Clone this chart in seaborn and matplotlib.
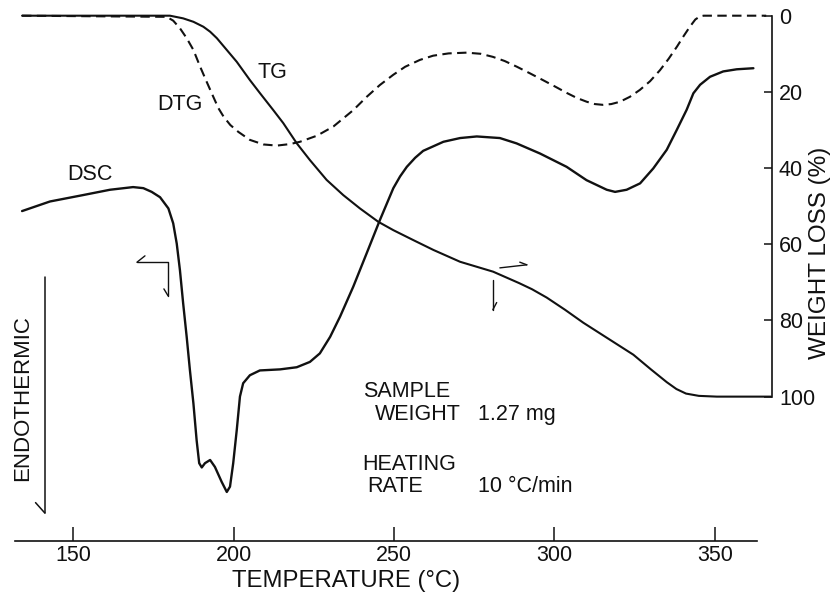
import matplotlib
matplotlib.use("Agg")
import matplotlib.pyplot as plt
import pandas as pd
import seaborn as sns

# TG trace: temperature (°C) and weight loss (%)
tg_temp = [134.1, 180.2, 184.3, 187.5, 190.6, 192.7, 194.8, 197.9, 201.0, 205.1,
           208.3, 212.4, 215.5, 219.7, 223.8, 229.0, 234.2, 239.4, 245.1, 249.8,
           256.0, 262.3, 270.6, 280.9, 289.0, 293.0, 297.6, 303.3, 309.0, 316.8,
           324.6, 330.0, 335.0, 338.0, 341.0, 345.0, 350.6, 367.5]
tg_loss = [0.0, 0.0, 0.7, 1.6, 2.9, 4.2, 5.9, 9.0, 12.1, 16.9,
           20.4, 24.8, 28.2, 33.5, 37.9, 43.1, 47.1, 50.6, 54.1, 56.3,
           58.9, 61.5, 64.6, 67.2, 70.2, 71.8, 74.0, 77.2, 80.6, 84.8,
           89.0, 92.8, 96.2, 98.0, 99.2, 99.8, 100.0, 100.0]

# DTG trace (arbitrary units, drawn against the weight-loss scale)
dtg_temp = [134.1, 179.2, 181.2, 183.3, 185.4, 187.5, 189.6, 191.6, 193.7, 195.3,
            196.9, 199.0, 201.5, 205.1, 209.3, 213.5, 217.6, 220.7, 226.0, 231.1,
            237.3, 241.5, 245.6, 249.8, 253.5, 258.1, 262.2, 267.0, 272.6, 277.0,
            280.8, 284.5, 288.3, 292.3, 296.4, 300.2, 303.9, 307.0, 310.1, 312.6,
            315.1, 317.7, 320.4, 323.5, 326.6, 329.8, 332.9, 335.6, 338.2, 340.3,
            342.2, 343.9, 345.3, 346.5, 366.0]
dtg_val = [0.0, 0.3, 1.3, 3.3, 5.9, 9.0, 13.4, 17.3, 21.3, 24.3,
           26.5, 28.7, 30.5, 32.6, 33.8, 34.1, 33.7, 33.1, 31.5, 29.1,
           24.8, 21.3, 18.2, 15.5, 13.4, 11.6, 10.5, 9.9, 9.7, 10.0,
           10.8, 11.9, 13.4, 15.1, 16.9, 18.6, 20.3, 21.6, 22.6, 23.2,
           23.4, 23.2, 22.6, 21.3, 19.5, 17.2, 14.3, 11.3, 8.1, 5.3,
           2.9, 1.0, 0.2, 0.0, 0.0]

# DSC trace (arbitrary heat-flow units, downward = endothermic)
dsc_temp = [134.1, 142.8, 153.1, 161.5, 168.7, 171.9, 174.5, 177.1, 179.7, 181.2,
            182.3, 183.3, 184.3, 185.4, 186.4, 187.5, 188.5, 189.3, 190.1, 191.1,
            192.7, 194.2, 196.3, 197.9, 198.9, 199.9, 201.0, 202.0, 203.0, 205.1,
            208.2, 214.5, 219.7, 223.8, 226.9, 230.1, 233.2, 237.3, 241.5, 245.6,
            249.8, 251.9, 254.0, 256.6, 259.1, 265.4, 270.6, 275.8, 283.0, 288.2,
            295.5, 303.8, 310.0, 316.3, 318.9, 322.5, 326.7, 330.8, 335.0, 338.1,
            341.2, 343.3, 345.4, 348.5, 352.6, 356.8, 362.0]
dsc_val = [6.19, 6.37, 6.49, 6.59, 6.64, 6.62, 6.55, 6.45, 6.24, 5.96,
           5.58, 5.08, 4.46, 3.83, 3.21, 2.58, 1.89, 1.46, 1.38, 1.46,
           1.52, 1.39, 1.11, 0.92, 1.02, 1.46, 2.08, 2.71, 2.96, 3.11,
           3.20, 3.22, 3.26, 3.36, 3.52, 3.83, 4.21, 4.77, 5.40, 6.02,
           6.62, 6.84, 7.02, 7.19, 7.32, 7.49, 7.56, 7.59, 7.56, 7.46,
           7.27, 7.02, 6.77, 6.59, 6.55, 6.59, 6.71, 6.99, 7.34, 7.71,
           8.09, 8.40, 8.56, 8.71, 8.81, 8.85, 8.87]

temp_ticks = [150, 200, 250, 300, 350]
loss_ticks = [0, 20, 40, 60, 80, 100]

sns.set_theme(style="white")
plt.rcParams["font.family"] = ["Liberation Sans", "DejaVu Sans"]
plt.rcParams["lines.solid_joinstyle"] = "round"
plt.rcParams["lines.solid_capstyle"] = "round"
FS = 15.5
INK = "#111111"

fig = plt.figure(figsize=(8.33, 5.96), dpi=100)
fig.patch.set_facecolor("white")
ax = fig.add_axes([15 / 833, 55 / 596, 757 / 833, 533 / 596])
ax2 = ax.twinx()

tg = pd.DataFrame({"T": tg_temp, "loss": tg_loss})
dtg = pd.DataFrame({"T": dtg_temp, "v": dtg_val})
dsc = pd.DataFrame({"T": dsc_temp, "v": dsc_val})

# DSC on the left (unlabelled heat-flow) axis
sns.lineplot(data=dsc, x="T", y="v", ax=ax, color=INK, lw=1.7,
             sort=False, estimator=None)
# TG and DTG on the right (weight-loss) axis
sns.lineplot(data=tg, x="T", y="loss", ax=ax2, color=INK, lw=1.5,
             sort=False, estimator=None)
sns.lineplot(data=dtg, x="T", y="v", ax=ax2, color=INK, lw=1.5,
             sort=False, estimator=None, linestyle=(0, (4.5, 2.6)))

ax.set_xlim(131.9, 367.8)
ax.set_ylim(0, 10)
ax2.set_ylim(137.9, -2.02)

# spines
for s in ["top", "left", "right"]:
    ax.spines[s].set_visible(False)
for s in ["top", "left", "bottom"]:
    ax2.spines[s].set_visible(False)
ax.spines["bottom"].set_bounds(131.9, 363.1)
ax.spines["bottom"].set_linewidth(1.2)
ax.spines["bottom"].set_color(INK)
ax2.spines["right"].set_bounds(0, 100)
ax2.spines["right"].set_linewidth(1.2)
ax2.spines["right"].set_color(INK)

ax.set_xticks(temp_ticks)
ax.set_xticklabels([str(t) for t in temp_ticks])
ax.tick_params(axis="x", direction="in", length=10, width=1.1, pad=3,
               labelsize=FS, colors=INK, bottom=True)
ax.set_yticks([])
ax2.set_yticks(loss_ticks)
ax2.set_yticklabels([str(t) for t in loss_ticks])
ax2.tick_params(axis="y", direction="in", length=6, width=1.1, pad=5,
                labelsize=FS, colors=INK, right=True, left=False)

# axis titles
ax.set_xlabel("TEMPERATURE (°C)", fontsize=17.2, color=INK)
ax.xaxis.set_label_coords(0.437, -0.086)
ax.xaxis.label.set_va("baseline")
ax.xaxis.label.set_ha("center")

ax.set_ylabel("ENDOTHERMIC", fontsize=16, color=INK)
ax.yaxis.set_label_coords(0.0106, 0.268)
ax.yaxis.label.set_rotation_mode("default")
ax.yaxis.label.set_va("center")
ax.yaxis.label.set_ha("center")

ax2.set_ylabel("WEIGHT LOSS (%)", fontsize=17.5, color=INK)
ax2.yaxis.set_label_position("right")
ax2.yaxis.set_label_coords(1.063, 0.540)
ax2.yaxis.label.set_rotation(90)
ax2.yaxis.label.set_rotation_mode("default")
ax2.yaxis.label.set_va("center")
ax2.yaxis.label.set_ha("center")

# endothermic direction arrow
ax.plot([141.2, 141.2], [4.95, 0.525], color=INK, lw=1.1)
ax.plot([141.2, 138.3], [0.525, 0.72], color=INK, lw=1.1)

# axis pointers: DSC -> left scale, TG -> right scale
thin = dict(color=INK, lw=1.0)
ax.plot([169.9, 179.6, 179.6], [5.23, 5.23, 4.60], **thin)
ax.plot([169.9, 172.4], [5.23, 5.35], **thin)
ax.plot([179.6, 178.3], [4.60, 4.73], **thin)
ax2.plot([283.0, 291.4], [66.2, 65.4], **thin)
ax2.plot([291.4, 289.2], [65.4, 64.7], **thin)
ax2.plot([280.8, 280.8], [69.4, 77.2], **thin)
ax2.plot([280.8, 282.0], [77.2, 75.3], **thin)

# curve names
ax.text(155.3, 6.87, "DSC", fontsize=FS, color=INK, ha="center", va="center")
ax2.text(183.3, 23.4, "DTG", fontsize=FS, color=INK, ha="center", va="center")
ax2.text(212.0, 15.0, "TG", fontsize=FS, color=INK, ha="center", va="center")

# run conditions
def ftext(px, py, s):
    fig.text(px / 833, 1 - py / 596, s, fontsize=FS, color=INK,
             ha="left", va="baseline")

ftext(363, 397, "SAMPLE")
ftext(375, 420, "WEIGHT")
ftext(478, 420, "1.27 mg")
ftext(362, 470, "HEATING")
ftext(367, 492, "RATE")
ftext(478, 492, "10 °C/min")

fig.savefig("out.png", dpi=100, facecolor="white")
